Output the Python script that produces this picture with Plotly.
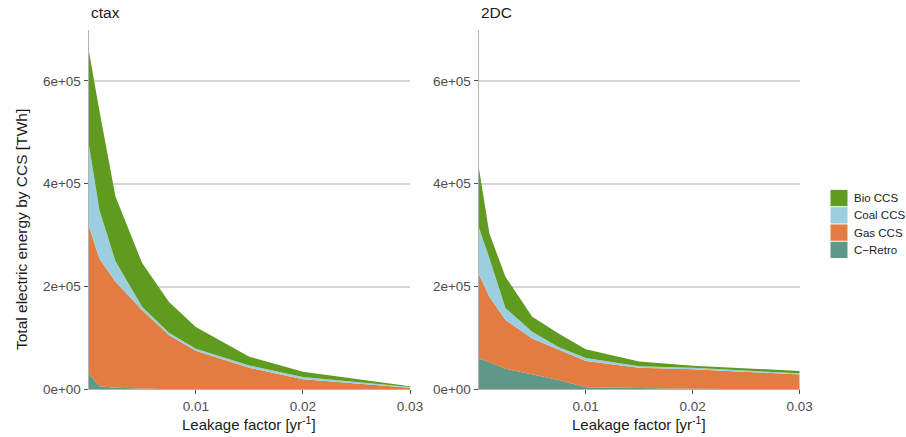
import plotly.graph_objects as go

W, H = 906, 437

leakage = [0, 0.001, 0.0025, 0.005, 0.0075, 0.01, 0.015, 0.02, 0.03]

# ctax scenario (TWh, stacked components)
ctax_cretro = [31000, 6000, 3000, 1000, 0, 0, 0, 0, 0]
ctax_gas    = [288000, 248000, 206000, 153000, 105000, 75000, 42000, 19500, 3200]
ctax_coal   = [159000, 95000, 40000, 6000, 5000, 4000, 4500, 4500, 1300]
ctax_bio    = [182000, 193000, 126000, 85000, 60000, 42000, 17000, 10000, 1300]

# 2DC scenario
dc_cretro = [60000, 53000, 40000, 29000, 18000, 4000, 2000, 1000, 0]
dc_gas    = [165000, 127000, 95000, 70000, 59000, 51000, 40000, 38000, 29000]
dc_coal   = [91000, 75000, 23000, 13000, 5000, 6000, 3000, 3000, 2000]
dc_bio    = [117000, 48000, 61000, 29000, 26000, 17000, 9000, 4000, 4600]

panel_titles = ["ctax", "2DC"]
series_names = ["C\u2212Retro", "Gas CCS", "Coal CCS", "Bio CCS"]
legend_names = ["Bio CCS", "Coal CCS", "Gas CCS", "C\u2212Retro"]
colors = {"C\u2212Retro": "#5f9887", "Gas CCS": "#e27c41",
          "Coal CCS": "#9bcfe0", "Bio CCS": "#5f9b1f"}

ytick_vals = [0, 200000, 400000, 600000]
ytick_text = ["0e+00", "2e+05", "4e+05", "6e+05"]
xtick_vals = [0.01, 0.02, 0.03]
xtick_text = ["0.01", "0.02", "0.03"]

def px(x):
    return x / W

def py(y):
    return 1 - y / H

fig = go.Figure()

panels = [
    ("x", "y", [ctax_cretro, ctax_gas, ctax_coal, ctax_bio]),
    ("x2", "y2", [dc_cretro, dc_gas, dc_coal, dc_bio]),
]
for pi, (xa, ya, data) in enumerate(panels):
    for name, vals in zip(series_names, data):
        fig.add_trace(go.Scatter(
            x=leakage, y=vals, xaxis=xa, yaxis=ya,
            mode="lines", line=dict(width=0, color=colors[name]),
            fillcolor=colors[name], stackgroup="p%d" % pi,
            name=name, showlegend=False, hoverinfo="x+y+name"))

FONT = "Liberation Sans, Arial, sans-serif"
ax_common = dict(
    showline=True, linecolor="#b3b3b3", linewidth=1.3,
    ticks="outside", ticklen=4, tickwidth=1.1, tickcolor="#4d4d4d",
    tickfont=dict(family=FONT, size=13.5, color="#4d4d4d"),
    zeroline=False, automargin=False,
)
plot_top, plot_bot = 29.5, 389.3
ydom = [py(plot_bot), py(plot_top)]
x1dom = [px(88.7), px(410.0)]
x2dom = [px(478.7), px(799.7)]

fig.update_layout(
    width=W, height=H,
    margin=dict(l=0, r=0, t=0, b=0),
    paper_bgcolor="white", plot_bgcolor="white",
    font=dict(family=FONT),
    showlegend=False,
    xaxis=dict(domain=x1dom, range=[0, 0.03], tickvals=xtick_vals, ticktext=xtick_text,
               showgrid=False, anchor="y", **ax_common),
    yaxis=dict(domain=ydom, range=[0, 700000], tickvals=ytick_vals, ticktext=ytick_text,
               showgrid=True, gridcolor="#d6d6d6", gridwidth=1.5, anchor="x", **ax_common),
    xaxis2=dict(domain=x2dom, range=[0, 0.03], tickvals=xtick_vals, ticktext=xtick_text,
                showgrid=False, anchor="y2", **ax_common),
    yaxis2=dict(domain=ydom, range=[0, 700000], tickvals=ytick_vals, ticktext=ytick_text,
                showgrid=True, gridcolor="#d6d6d6", gridwidth=1.5, anchor="x2", **ax_common),
)

annotations = []
for title, dom in zip(panel_titles, [x1dom, x2dom]):
    annotations.append(dict(text=title, x=dom[0], y=py(12), xref="paper", yref="paper",
                            xanchor="left", yanchor="middle", showarrow=False,
                            font=dict(family=FONT, size=15.5, color="#1a1a1a")))
    annotations.append(dict(text="Leakage factor [yr<sup>-1</sup>]",
                            x=(dom[0] + dom[1]) / 2, y=py(423.5), xref="paper", yref="paper",
                            xanchor="center", yanchor="middle", showarrow=False,
                            font=dict(family=FONT, size=15, color="#1a1a1a")))
annotations.append(dict(text="Total electric energy by CCS [TWh]", textangle=-90,
                        x=px(21), y=py(230), xref="paper", yref="paper",
                        xanchor="center", yanchor="middle", showarrow=False,
                        font=dict(family=FONT, size=15.5, color="#1a1a1a")))

shapes = []
key_h = 17.3
first_center = 198.0
for i, name in enumerate(legend_names):
    cy = first_center + i * key_h
    shapes.append(dict(type="rect", xref="paper", yref="paper",
                       x0=px(830.5), x1=px(847.5), y0=py(cy + key_h / 2 - 0.5), y1=py(cy - key_h / 2 + 0.5),
                       fillcolor=colors[name], line=dict(width=0)))
    annotations.append(dict(text=name, x=px(851.5), y=py(cy), xref="paper", yref="paper",
                            xanchor="left", yanchor="middle", showarrow=False,
                            font=dict(family=FONT, size=11.5, color="#1a1a1a")))

fig.update_layout(annotations=annotations, shapes=shapes)

fig.write_html("out.html")
